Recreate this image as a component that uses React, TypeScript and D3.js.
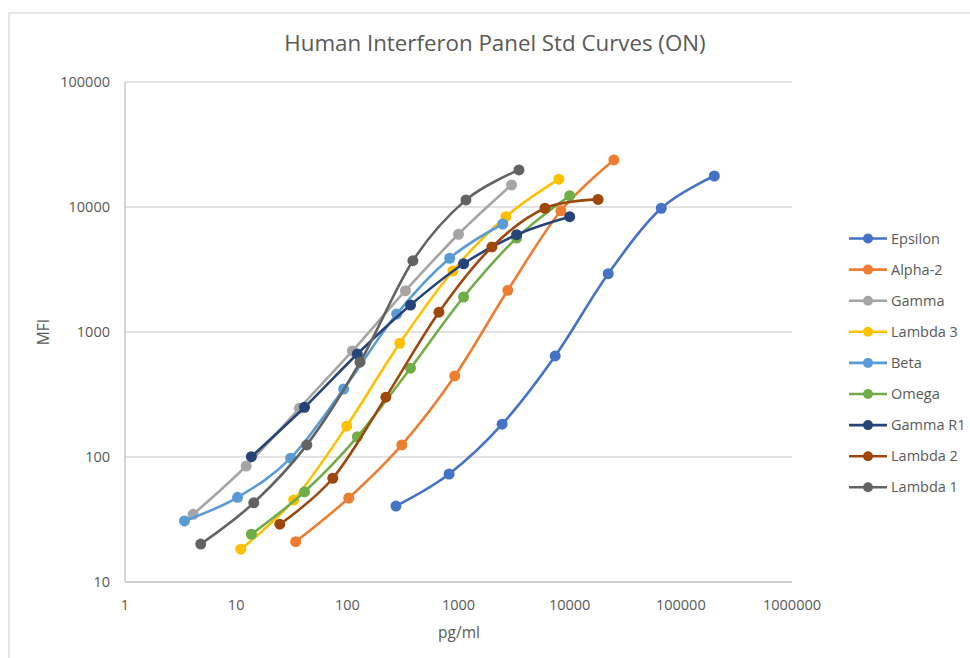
import * as d3 from "d3";

// Standard curves, concentration (pg/ml) vs MFI
const epsilonX = [274, 823, 2469, 7407, 22222, 66667, 200000];
const epsilonY = [40.5, 73, 183, 643, 2925, 9770, 17700];

const alpha2X = [34.3, 103, 309, 926, 2778, 8333, 25000];
const alpha2Y = [21, 47, 125, 445, 2157, 9330, 23800];

const gammaX = [4.1, 12.3, 37, 111, 333, 1000, 3000];
const gammaY = [34.8, 84.7, 245, 705, 2140, 6050, 15000];

const lambda3X = [11, 32.9, 98.8, 296, 889, 2667, 8000];
const lambda3Y = [18.3, 45.3, 177, 813, 3076, 8360, 16700];

const betaX = [3.43, 10.3, 30.9, 92.6, 278, 833, 2500];
const betaY = [30.8, 47.6, 97.9, 350, 1393, 3890, 7310];

const omegaX = [13.7, 41.2, 123, 370, 1111, 3333, 10000];
const omegaY = [24.1, 52.7, 145, 513, 1905, 5650, 12300];

const gammaR1X = [13.7, 41.2, 123, 370, 1111, 3333, 10000];
const gammaR1Y = [100.5, 250, 667, 1644, 3515, 6000, 8360];

const lambda2X = [24.7, 74, 222, 667, 2000, 6000, 18000];
const lambda2Y = [29, 67.6, 301, 1440, 4790, 9770, 11500];

const lambda1X = [4.8, 14.4, 43.2, 130, 389, 1167, 3500];
const lambda1Y = [20.1, 43, 125, 573, 3720, 11400, 19800];

const seriesNames = ["Epsilon", "Alpha-2", "Gamma", "Lambda 3", "Beta", "Omega", "Gamma R1", "Lambda 2", "Lambda 1"];
const seriesColors = ["#4472C4", "#ED7D31", "#A5A5A5", "#FFC000", "#5B9BD5", "#70AD47", "#264478", "#9E480E", "#636363"];
const seriesX = [epsilonX, alpha2X, gammaX, lambda3X, betaX, omegaX, gammaR1X, lambda2X, lambda1X];
const seriesY = [epsilonY, alpha2Y, gammaY, lambda3Y, betaY, omegaY, gammaR1Y, lambda2Y, lambda1Y];

const xTicks = [1, 10, 100, 1000, 10000, 100000, 1000000];
const yTicks = [10, 100, 1000, 10000, 100000];

const W = 970;
const H = 658;
const plot = { left: 125, right: 792, top: 82, bottom: 582 };
const font = "'Open Sans', 'Liberation Sans', sans-serif";
const textColor = "#595959";

export default function App() {
  const x = d3.scaleLog().domain([1, 1000000]).range([plot.left, plot.right]);
  const y = d3.scaleLog().domain([10, 100000]).range([plot.bottom, plot.top]);

  const line = d3
    .line<[number, number]>()
    .x((d) => x(d[0]))
    .y((d) => y(d[1]))
    .curve(d3.curveCardinal.tension(0));

  const series = seriesNames.map((name, i) => ({
    name,
    color: seriesColors[i],
    points: seriesX[i].map((v, j) => [v, seriesY[i][j]] as [number, number]),
  }));

  return (
    <svg
      width={W}
      height={H}
      style={{ position: "absolute", left: 0, top: 0, background: "#fff" }}
      fontFamily={font}
    >
      <rect x={9} y={13} width={W} height={H} fill="#fff" stroke="#d9d9d9" strokeWidth={1.3} />

      <text x={495} y={51} textAnchor="middle" fontSize={22.3} fill={textColor}>
        Human Interferon Panel Std Curves (ON)
      </text>

      {/* gridlines */}
      {yTicks.slice(1).map((t) => (
        <line key={t} x1={plot.left} x2={plot.right} y1={y(t)} y2={y(t)} stroke="#d9d9d9" strokeWidth={1.3} />
      ))}
      <line x1={plot.left} x2={plot.right} y1={plot.bottom} y2={plot.bottom} stroke="#bfbfbf" strokeWidth={1.3} />
      <line x1={plot.left} x2={plot.left} y1={plot.top} y2={plot.bottom} stroke="#bfbfbf" strokeWidth={1.3} />

      {yTicks.map((t) => (
        <text key={t} x={110} y={y(t)} dy="0.35em" textAnchor="end" fontSize={14.5} fill={textColor}>
          {t}
        </text>
      ))}
      {xTicks.map((t) => (
        <text key={t} x={x(t)} y={610} textAnchor="middle" fontSize={14.5} fill={textColor}>
          {t}
        </text>
      ))}

      <text x={459} y={638} textAnchor="middle" fontSize={15.5} fill={textColor}>
        pg/ml
      </text>
      <text
        transform={`translate(49, ${(plot.top + plot.bottom) / 2}) rotate(-90)`}
        textAnchor="middle"
        fontSize={15.5}
        fill={textColor}
      >
        MFI
      </text>

      {series.map((s) => (
        <g key={s.name}>
          <path d={line(s.points) || ""} fill="none" stroke={s.color} strokeWidth={2.6} />
          {s.points.map((p, j) => (
            <circle key={j} cx={x(p[0])} cy={y(p[1])} r={5.5} fill={s.color} />
          ))}
        </g>
      ))}

      {/* legend */}
      {series.map((s, i) => {
        const ly = 238.5 + i * 31.1;
        return (
          <g key={s.name}>
            <line x1={849} x2={887} y1={ly} y2={ly} stroke={s.color} strokeWidth={2.6} />
            <circle cx={868} cy={ly} r={5} fill={s.color} />
            <text x={891} y={ly} dy="0.35em" fontSize={14.5} fill={textColor}>
              {s.name}
            </text>
          </g>
        );
      })}
    </svg>
  );
}
